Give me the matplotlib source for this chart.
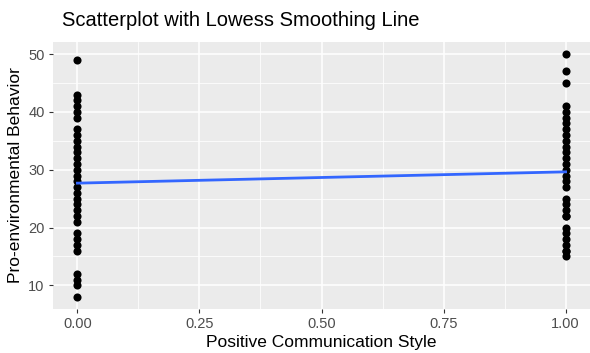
import matplotlib
matplotlib.use('Agg')
import matplotlib.pyplot as plt
import numpy as np

plt.rcParams['font.family'] = ['Liberation Sans', 'DejaVu Sans']

# data
style_0 = [49, 43, 42, 41, 40, 39, 37, 36, 35, 34, 33, 32, 31, 30, 29, 28,
           27, 26, 25, 24, 23, 22, 21, 19, 18, 17, 16, 12, 11, 10, 8]
style_1 = [50, 47, 45, 41, 40, 39, 38, 37, 36, 35, 34, 33, 32, 31, 30, 29,
           28, 27, 25, 24, 23, 22, 22, 20, 19, 18, 17, 16, 16, 15]
x_ticks = [0.0, 0.25, 0.5, 0.75, 1.0]
y_ticks = [10, 20, 30, 40, 50]

x = np.array([0] * len(style_0) + [1] * len(style_1), dtype=float)
y = np.array(style_0 + style_1, dtype=float)


def loess(x, y, grid, span=0.75):
    # local linear fit, tricube weights
    n = len(x)
    k = int(np.ceil(span * n))
    out = []
    for g in grid:
        d = np.abs(x - g)
        h = np.sort(d)[k - 1]
        h = max(h, 1e-9) * 1.0001
        w = (1 - (d / h) ** 3) ** 3
        w[d >= h] = 0
        if np.all(w == 0):
            w = np.ones(n)
        W = np.sqrt(w)
        A = np.vstack([np.ones(n), x - g]).T * W[:, None]
        coef = np.linalg.lstsq(A, y * W, rcond=None)[0]
        out.append(coef[0])
    return np.array(out)


grid = np.linspace(0, 1, 80)
fit = loess(x, y, grid)

fig = plt.figure(figsize=(5.9, 3.53), dpi=100)
ax = fig.add_axes([53 / 590, 1 - 309 / 353, 537 / 590, 267 / 353])
ax.set_facecolor('#EBEBEB')

ax.set_xlim(-0.05, 1.05)
ax.set_ylim(5.9, 52.1)
ax.set_xticks(x_ticks)
ax.set_xticklabels(['0.00', '0.25', '0.50', '0.75', '1.00'])
ax.set_yticks(y_ticks)
ax.set_xticks([0.125, 0.375, 0.625, 0.875], minor=True)
ax.set_yticks([15, 25, 35, 45], minor=True)
ax.grid(which='major', color='white', lw=1.1)
ax.grid(which='minor', color='white', lw=0.55)
ax.set_axisbelow(True)
for s in ax.spines.values():
    s.set_visible(False)
ax.tick_params(which='major', length=3, color='#333333', width=0.8,
               labelsize=10.5, labelcolor='#4D4D4D', pad=3)
ax.tick_params(which='minor', length=0)

ax.scatter(x, y, s=34, color='black', zorder=3, linewidths=0)
ax.plot(grid, fit, color='#3366FF', lw=2.0, zorder=4)

ax.set_xlabel('Positive Communication Style', fontsize=12.5, labelpad=3)
ax.set_ylabel('Pro-environmental Behavior', fontsize=12.5, labelpad=4)
fig.text(62 / 590, 1 - 20 / 353, 'Scatterplot with Lowess Smoothing Line',
         fontsize=14.5, va='center', ha='left')

fig.savefig('out.png', dpi=100)
